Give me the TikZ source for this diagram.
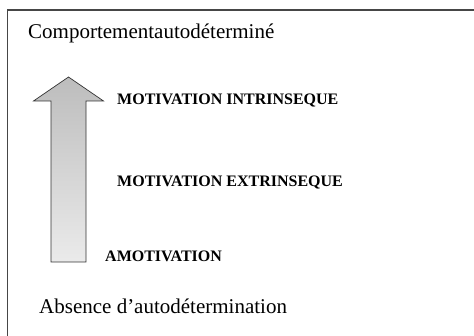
\documentclass[tikz,border=0pt]{standalone}
\usepackage{fontspec}
\setmainfont{Liberation Serif}
\usetikzlibrary{positioning}
\definecolor{framegray}{RGB}{70,70,70}

\begin{document}
\begin{tikzpicture}[x=1pt,y=-1pt,
  level/.style={font=\bfseries\fontsize{16}{18}\selectfont,anchor=base west,inner sep=0pt},
  pole/.style={font=\fontsize{21}{24}\selectfont,anchor=base west,inner sep=0pt}]
\useasboundingbox (0,0) rectangle (474,336);
% Frame (only top and left edges fall inside the page)
\draw[framegray,line width=1.3pt] (7.5,340) -- (7.5,10) -- (480,10);

% Poles
\node[pole] (top) at (28,39) {Comportementautodéterminé};
\node[pole] (bottom) at (39,314) {Absence d’autodétermination};

% Arrow
\shade[top color=black!26,bottom color=black!8,draw=black!80,line width=0.7pt]
  (51,262) -- (51,101) -- (33.5,101) -- (68.5,77) -- (103.5,101) -- (86,101) -- (86,262) -- cycle;

% Levels
\node[level] (intr) at (117,105) {MOTIVATION INTRINSEQUE};
\node[level] (extr) at (117,187) {MOTIVATION EXTRINSEQUE};
\node[level] (amot) at (105,262) {AMOTIVATION};
\end{tikzpicture}
\end{document}
